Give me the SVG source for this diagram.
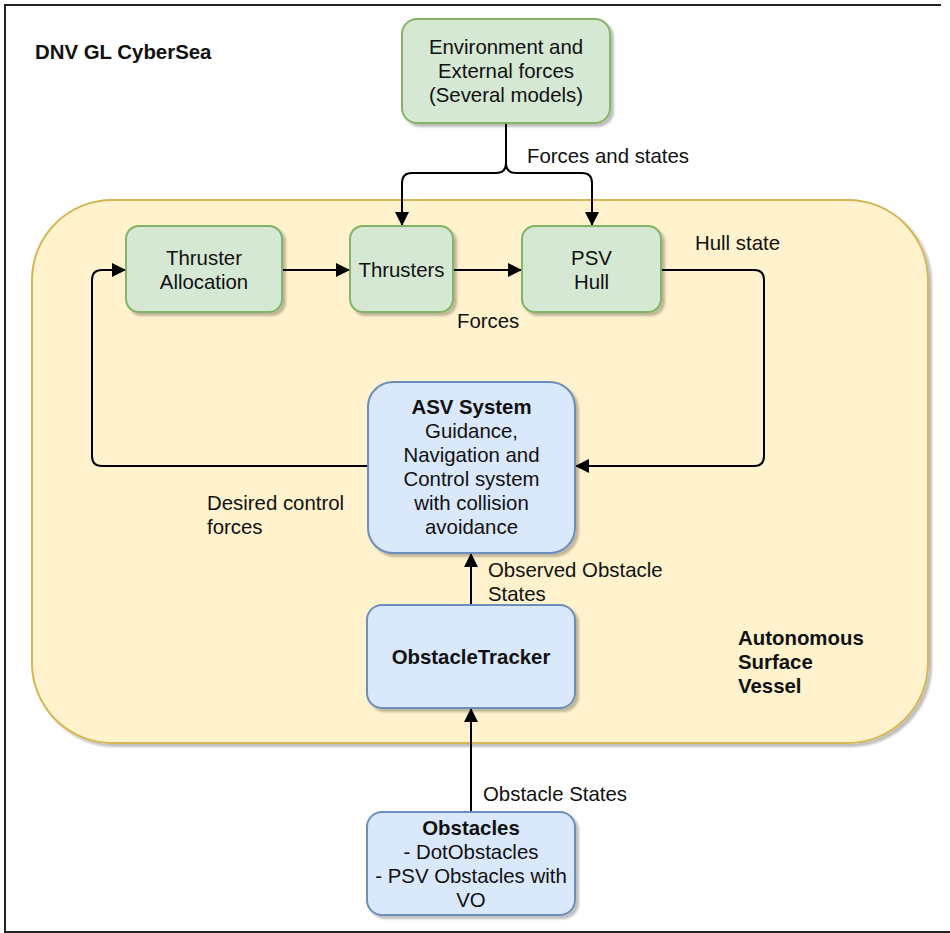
<svg xmlns="http://www.w3.org/2000/svg" width="950" height="933" viewBox="0 0 950 933">
<defs>
<filter id="sh" x="-10%" y="-10%" width="130%" height="130%">
<feDropShadow dx="3" dy="3" stdDeviation="0.8" flood-color="#000" flood-opacity="0.25"/>
</filter>
<marker id="arr" markerUnits="userSpaceOnUse" markerWidth="15" markerHeight="15" refX="14" refY="7" orient="auto">
<path d="M0,0 L14,7 L0,14 z" fill="#000"/>
</marker>
<style>
text{font-family:"Liberation Sans",Arial,sans-serif;font-size:20.4px;fill:#111}
.c{text-anchor:middle}
.b{font-weight:bold}
.g{fill:#d5e8d4;stroke:#82b366;stroke-width:2}
.bl{fill:#dae8fc;stroke:#6c8ebf;stroke-width:2}
.e{fill:none;stroke:#000;stroke-width:2}
</style>
</defs>
<rect width="950" height="933" fill="#fff"/>
<path d="M941,5 H5 V932 H950" fill="none" stroke="#222" stroke-width="2"/>
<text x="35" y="59" class="b">DNV GL CyberSea</text>

<g id="container">
<rect x="32" y="200" width="896" height="543" rx="80" ry="80" fill="#fff2cc" stroke="#d6b656" stroke-width="2" filter="url(#sh)"/>
<text x="738" y="645" class="b">Autonomous</text>
<text x="738" y="669" class="b">Surface</text>
<text x="738" y="693" class="b">Vessel</text>
</g>

<g id="connectors">
<path class="e" d="M506,123 V163 Q506,173 496,173 H412 Q402,173 402,183 V226" marker-end="url(#arr)"/>
<path class="e" d="M506,123 V163 Q506,173 516,173 H582 Q592,173 592,183 V226" marker-end="url(#arr)"/>
<path class="e" d="M282,270 H350" marker-end="url(#arr)"/>
<path class="e" d="M453,270 H522" marker-end="url(#arr)"/>
<path class="e" d="M661,270 H754 Q764,270 764,280 V456 Q764,466 754,466 H575" marker-end="url(#arr)"/>
<path class="e" d="M368,466 H102 Q92,466 92,456 V280 Q92,270 102,270 H126" marker-end="url(#arr)"/>
<path class="e" d="M471,605 V553" marker-end="url(#arr)"/>
<path class="e" d="M471,812 V708" marker-end="url(#arr)"/>
<text x="527" y="163">Forces and states</text>
<text x="695" y="250">Hull state</text>
<text x="457" y="328">Forces</text>
<text x="207" y="510">Desired control</text>
<text x="207" y="534">forces</text>
<text x="488" y="577">Observed Obstacle</text>
<text x="488" y="601">States</text>
<text x="483" y="801">Obstacle States</text>
</g>

<g id="env">
<rect x="402" y="19" width="208" height="104" rx="15" class="g" filter="url(#sh)"/>
<text x="506" y="54" class="c">Environment and</text>
<text x="506" y="78" class="c">External forces</text>
<text x="506" y="102" class="c">(Several models)</text>
</g>

<g id="thruster-allocation">
<rect x="126" y="226" width="156" height="86" rx="13" class="g" filter="url(#sh)"/>
<text x="204" y="265" class="c">Thruster</text>
<text x="204" y="289" class="c">Allocation</text>
</g>

<g id="thrusters">
<rect x="350" y="226" width="103" height="86" rx="13" class="g" filter="url(#sh)"/>
<text x="401.5" y="277" class="c">Thrusters</text>
</g>

<g id="psv-hull">
<rect x="522" y="226" width="139" height="86" rx="13" class="g" filter="url(#sh)"/>
<text x="591.5" y="265" class="c">PSV</text>
<text x="591.5" y="289" class="c">Hull</text>
</g>

<g id="asv">
<rect x="368" y="382" width="207" height="171" rx="25" class="bl" filter="url(#sh)"/>
<text x="471.5" y="414" class="c b">ASV System</text>
<text x="471.5" y="438" class="c">Guidance,</text>
<text x="471.5" y="462" class="c">Navigation and</text>
<text x="471.5" y="486" class="c">Control system</text>
<text x="471.5" y="510" class="c">with collision</text>
<text x="471.5" y="534" class="c">avoidance</text>
</g>

<g id="tracker">
<rect x="367" y="605" width="208" height="103" rx="15" class="bl" filter="url(#sh)"/>
<text x="471" y="664" class="c b">ObstacleTracker</text>
</g>

<g id="obstacles">
<rect x="367" y="812" width="208" height="103" rx="15" class="bl" filter="url(#sh)"/>
<text x="471" y="835" class="c b">Obstacles</text>
<text x="471" y="859" class="c">- DotObstacles</text>
<text x="471" y="883" class="c">- PSV Obstacles with</text>
<text x="471" y="907" class="c">VO</text>
</g>
</svg>
